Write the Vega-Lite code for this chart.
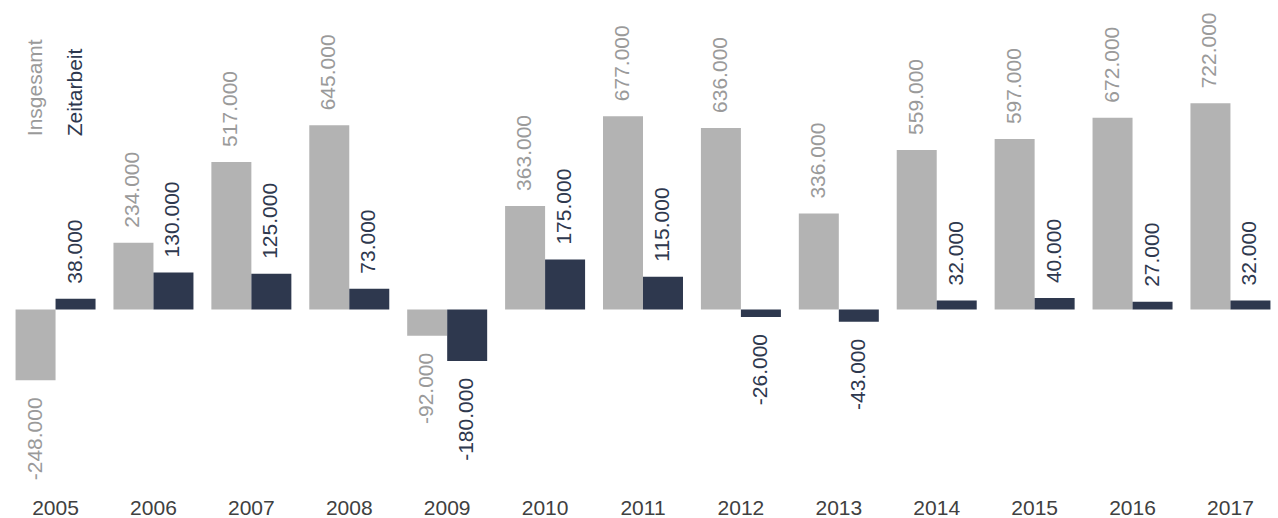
{
  "$schema": "https://vega.github.io/schema/vega-lite/v6.json",
  "autosize": {"type": "none"},
  "padding": {"left": 4, "right": 0, "top": 0, "bottom": 38},
  "width": 1278,
  "height": 480,
  "background": "white",
  "config": {
    "view": {"stroke": null},
    "locale": {"number": {"decimal": ",", "thousands": ".", "grouping": [3], "currency": ["", " €"], "minus": "-"}},
    "text": {"font": "Liberation Sans", "fontSize": 21}
  },
  "datasets": {
    "main": [
      {"year": "2005", "series": "Insgesamt", "value": -248000},
      {"year": "2005", "series": "Zeitarbeit", "value": 38000},
      {"year": "2006", "series": "Insgesamt", "value": 234000},
      {"year": "2006", "series": "Zeitarbeit", "value": 130000},
      {"year": "2007", "series": "Insgesamt", "value": 517000},
      {"year": "2007", "series": "Zeitarbeit", "value": 125000},
      {"year": "2008", "series": "Insgesamt", "value": 645000},
      {"year": "2008", "series": "Zeitarbeit", "value": 73000},
      {"year": "2009", "series": "Insgesamt", "value": -92000},
      {"year": "2009", "series": "Zeitarbeit", "value": -180000},
      {"year": "2010", "series": "Insgesamt", "value": 363000},
      {"year": "2010", "series": "Zeitarbeit", "value": 175000},
      {"year": "2011", "series": "Insgesamt", "value": 677000},
      {"year": "2011", "series": "Zeitarbeit", "value": 115000},
      {"year": "2012", "series": "Insgesamt", "value": 636000},
      {"year": "2012", "series": "Zeitarbeit", "value": -26000},
      {"year": "2013", "series": "Insgesamt", "value": 336000},
      {"year": "2013", "series": "Zeitarbeit", "value": -43000},
      {"year": "2014", "series": "Insgesamt", "value": 559000},
      {"year": "2014", "series": "Zeitarbeit", "value": 32000},
      {"year": "2015", "series": "Insgesamt", "value": 597000},
      {"year": "2015", "series": "Zeitarbeit", "value": 40000},
      {"year": "2016", "series": "Insgesamt", "value": 672000},
      {"year": "2016", "series": "Zeitarbeit", "value": 27000},
      {"year": "2017", "series": "Insgesamt", "value": 722000},
      {"year": "2017", "series": "Zeitarbeit", "value": 32000}
    ],
    "legend": [
      {"year": "2005", "series": "Insgesamt", "label": "Insgesamt", "pos": 607000},
      {"year": "2005", "series": "Zeitarbeit", "label": "Zeitarbeit", "pos": 607000}
    ]
  },
  "data": {"name": "main"},
  "encoding": {
    "x": {
      "field": "year", "type": "nominal", "sort": null,
      "scale": {"paddingInner": 0.183, "paddingOuter": 0.118},
      "axis": {"title": null, "domain": false, "ticks": false, "labelAngle": 0, "labelFont": "Liberation Sans", "labelFontSize": 21, "labelColor": "#404040", "labelPadding": 17}
    },
    "xOffset": {"field": "series", "type": "nominal", "scale": {"domain": ["Insgesamt", "Zeitarbeit"], "paddingInner": 0, "paddingOuter": 0}}
  },
  "layer": [
    {
      "mark": {"type": "bar"},
      "encoding": {
        "y": {"field": "value", "type": "quantitative", "scale": {"domain": [-597000, 1084000], "nice": false, "zero": false}, "axis": null},
        "color": {"field": "series", "type": "nominal", "scale": {"domain": ["Insgesamt", "Zeitarbeit"], "range": ["#b3b3b3", "#2e384e"]}, "legend": null}
      }
    },
    {
      "transform": [{"filter": "datum.value >= 0"}],
      "mark": {"type": "text", "angle": -90, "align": "left", "baseline": "middle", "dx": 15},
      "encoding": {
        "y": {"field": "value", "type": "quantitative"},
        "text": {"field": "value", "type": "quantitative", "format": ",d"},
        "color": {"condition": {"test": "datum.series === 'Insgesamt'", "value": "#9a9a9a"}, "value": "#2e384e"}
      }
    },
    {
      "transform": [{"filter": "datum.value < 0"}],
      "mark": {"type": "text", "angle": -90, "align": "right", "baseline": "middle", "dx": -17},
      "encoding": {
        "y": {"field": "value", "type": "quantitative"},
        "text": {"field": "value", "type": "quantitative", "format": ",d"},
        "color": {"condition": {"test": "datum.series === 'Insgesamt'", "value": "#9a9a9a"}, "value": "#2e384e"}
      }
    },
    {
      "mark": {"type": "rule", "color": "#555555", "strokeWidth": 1.5},
      "encoding": {"y": {"datum": 0, "type": "quantitative"}}
    },
    {
      "data": {"name": "legend"},
      "mark": {"type": "text", "angle": -90, "align": "left", "baseline": "middle"},
      "encoding": {
        "y": {"field": "pos", "type": "quantitative"},
        "text": {"field": "label", "type": "nominal"},
        "color": {"condition": {"test": "datum.series === 'Insgesamt'", "value": "#9a9a9a"}, "value": "#2e384e"}
      }
    }
  ]
}
